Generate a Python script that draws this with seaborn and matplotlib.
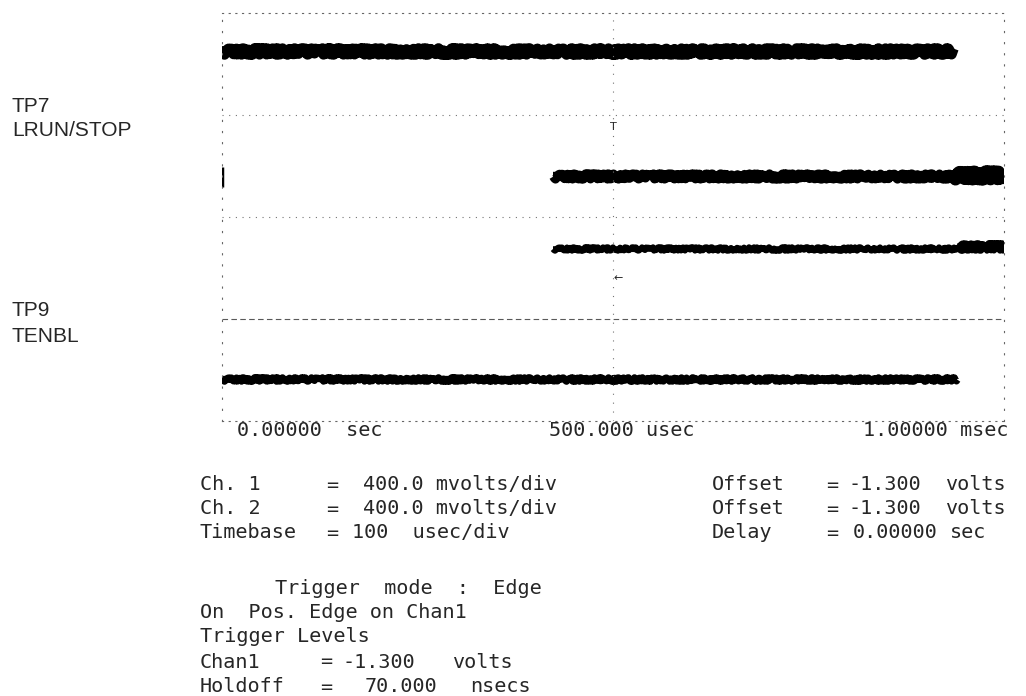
import numpy as np
import pandas as pd
import seaborn as sns
import matplotlib.pyplot as plt

# Scope capture: 10 div x 100 usec, 4 vertical divisions (two channels per half)
trace_names = ["TP7 ch1", "TP7 ch2", "TP9 ch1", "TP9 ch2"]
trace_start_us = [0, 423, 423, 0]
trace_end_us = [935, 1000, 1000, 940]
trace_level_div = [3.63, 2.40, 1.69, 0.41]
trace_band_px = [14, 12, 8, 9]

# heavier burst at the right end of the TP7 ch2 / TP9 ch1 traces
burst_start_us = [935, 940]
burst_end_us = [1000, 1000]
burst_level_div = [2.41, 1.72]
burst_band_px = [17, 10]

# short edge mark at t=0 on channel 2 of TP7
edge_mark_div = [2.29, 2.49]

probe_labels = ["TP7", "LRUN/STOP", "TP9", "TENBL"]
time_labels = ["0.00000  sec", "500.000 usec", "1.00000 msec"]

left_rows = [("Ch. 1", "=", "400.0 mvolts/div"),
             ("Ch. 2", "=", "400.0 mvolts/div"),
             ("Timebase", "=", "100  usec/div")]
right_rows = [("Offset", "=", "-1.300", "volts"),
              ("Offset", "=", "-1.300", "volts"),
              ("Delay", "=", "0.00000", "sec")]
trigger_rows = ["Trigger  mode  :  Edge",
                "On  Pos. Edge on Chan1",
                "Trigger Levels"]
level_rows = [("Chan1", "=", "-1.300", "volts"),
              ("Holdoff", "=", "70.000", "nsecs")]

sns.set_style("white")
plt.rcParams["font.family"] = ["DejaVu Sans Mono", "DejaVu Sans"]

W, H = 1026, 696
fig = plt.figure(figsize=(W / 100, H / 100), dpi=100)
ax = fig.add_axes([222 / W, 1 - 421 / H, 782 / W, 408 / H])


def fx(px):
    return px / W


def fy(py):
    return 1 - py / H


def band(t0, t1, level, px):
    # solid core plus a jittered copy so the band edges look like scope noise
    seg = pd.DataFrame({"t": [t0, t1], "v": [level, level]})
    pt = px * 0.72
    sns.lineplot(data=seg, x="t", y="v", color="black", lw=pt * 0.7,
                 solid_capstyle="butt", ax=ax)
    sns.lineplot(data=seg, x="t", y="v", color="black", lw=pt * 0.75,
                 solid_capstyle="butt", ax=ax)
    ax.lines[-1].set_sketch_params(scale=px * 0.22, length=1.5, randomness=6)


for i in range(len(trace_names)):
    band(trace_start_us[i], trace_end_us[i], trace_level_div[i], trace_band_px[i])

for i in range(len(burst_start_us)):
    band(burst_start_us[i], burst_end_us[i], burst_level_div[i], burst_band_px[i])

ax.plot([0, 0], edge_mark_div, color="black", lw=2.5, solid_capstyle="butt")

# graticule
dot = (0, (1, 5))
for lvl in [2, 3]:
    ax.axhline(lvl, color="0.45", lw=0.8, ls=dot)
ax.axhline(1, color="0.35", lw=0.8, ls=(0, (5, 3)))
ax.axvline(500, color="0.45", lw=0.8, ls=(0, (1, 7)))
ax.text(500, 2.88, "T", fontsize=8, ha="center", va="center", family="DejaVu Sans")
ax.text(500, 1.40, "\u2190", fontsize=8, ha="left", va="center", family="DejaVu Sans")

ax.set_xlim(0, 1000)
ax.set_ylim(0, 4)
ax.set_xticks([])
ax.set_yticks([])
ax.set_xlabel("")
ax.set_ylabel("")
for side in ["top", "bottom"]:
    ax.spines[side].set_linestyle(dot)
    ax.spines[side].set_color("0.4")
    ax.spines[side].set_linewidth(0.8)
for side in ["left", "right"]:
    ax.spines[side].set_linestyle((0, (1, 9)))
    ax.spines[side].set_color("0.4")
    ax.spines[side].set_linewidth(0.8)

# probe names on the left
for lab, py in zip(probe_labels, [107, 131, 310, 336]):
    fig.text(fx(12), fy(py), lab, fontsize=15, family="Liberation Sans",
             ha="left", va="center")

# time axis readout
mono = dict(fontsize=14.5, ha="left", va="center")
for lab, px in zip(time_labels, [237, 549, 863]):
    fig.text(fx(px), fy(431), lab, **mono)

# settings block
for (name, eq, val), py in zip(left_rows, [485, 509, 533]):
    fig.text(fx(200), fy(py), name, **mono)
    fig.text(fx(326), fy(py), eq, **mono)
    fig.text(fx(363 if name != "Timebase" else 352), fy(py), val, **mono)

for (name, eq, val, unit), py in zip(right_rows, [485, 509, 533]):
    fig.text(fx(712), fy(py), name, **mono)
    fig.text(fx(826), fy(py), eq, **mono)
    fig.text(fx(849 if unit == "volts" else 853), fy(py), val, **mono)
    fig.text(fx(945 if unit == "volts" else 950), fy(py), unit, **mono)

for row, px, py in zip(trigger_rows, [275, 200, 200], [588, 613, 637]):
    fig.text(fx(px), fy(py), row, **mono)

for (name, eq, val, unit), py, vx, ux in zip(level_rows, [662, 687],
                                             [342, 365], [452, 470]):
    fig.text(fx(200), fy(py), name, **mono)
    fig.text(fx(320), fy(py), eq, **mono)
    fig.text(fx(vx), fy(py), val, **mono)
    fig.text(fx(ux), fy(py), unit, **mono)

fig.savefig("out.png", dpi=100)
